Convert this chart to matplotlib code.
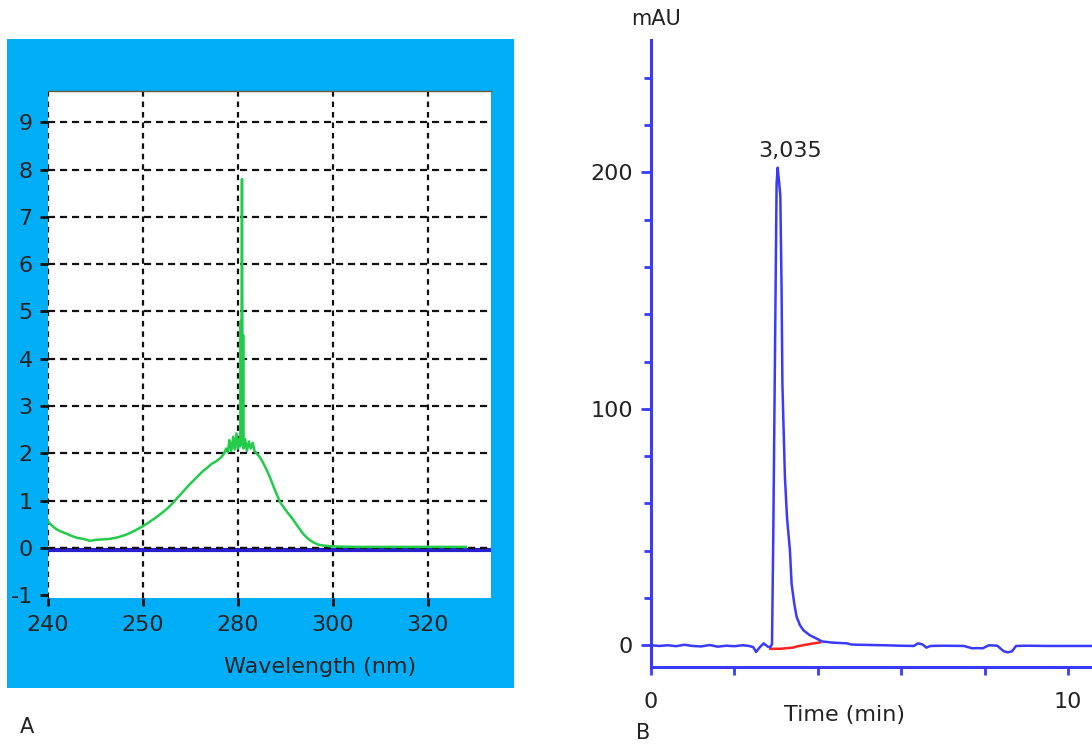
import matplotlib
matplotlib.use("Agg")
import matplotlib.pyplot as plt
from matplotlib.patches import Rectangle

plt.rcParams['font.family'] = ['DejaVu Sans']

# --- panel A: UV spectrum ---
spec_nm = [240.0, 240.8, 241.7, 242.6, 243.9, 245.0, 246.2, 247.4, 248.8, 250.2,
           251.6, 253.0, 254.6, 256.5, 258.2, 260.0, 261.7, 263.5, 265.0, 266.3,
           268.0, 269.8, 271.2, 272.6, 273.6, 274.5, 275.4, 276.3, 277.0, 277.5,
           277.9, 278.2, 278.6, 279.0, 279.3, 279.7, 280.0, 280.3, 280.5, 280.6,
           280.7, 280.85, 281.0, 281.1, 281.2, 281.5, 281.9, 282.3, 282.7, 283.1,
           283.5, 283.9, 284.6, 285.3, 286.0, 286.7, 287.8, 288.8, 290.2, 291.6,
           292.7, 293.7, 294.8, 295.8, 296.9, 297.9, 300.0, 305.0, 310.0, 315.0,
           320.0, 325.0, 328.0]
spec_abs = [0.56, 0.47, 0.40, 0.35, 0.30, 0.25, 0.21, 0.19, 0.15, 0.17,
            0.18, 0.19, 0.22, 0.28, 0.36, 0.46, 0.57, 0.70, 0.82, 0.95,
            1.14, 1.34, 1.48, 1.62, 1.70, 1.78, 1.83, 1.90, 1.98, 2.10,
            2.02, 2.28, 2.05, 2.35, 2.08, 2.42, 2.10, 2.30, 2.15, 4.80,
            2.45, 7.80, 2.20, 4.50, 2.10, 2.30, 2.05, 2.25, 2.10, 2.22,
            2.05, 2.00, 1.92, 1.80, 1.66, 1.50, 1.22, 0.98, 0.78, 0.60,
            0.44, 0.30, 0.19, 0.12, 0.07, 0.05, 0.03, 0.02, 0.02, 0.02,
            0.02, 0.02, 0.02]
spec_ticks = [240, 260, 280, 300, 320]
spec_tick_labels = ['240', '250', '280', '300', '320']
spec_yticks = [-1, 0, 1, 2, 3, 4, 5, 6, 7, 8, 9]

# --- panel B: chromatogram ---
chrom_t = [0.0, 0.2, 0.4, 0.6, 0.8, 1.0, 1.2, 1.4, 1.6, 1.8, 2.0, 2.2, 2.35, 2.45,
           2.52, 2.6, 2.7, 2.8, 2.86, 2.9, 2.93, 2.97, 3.01, 3.035, 3.07, 3.1,
           3.13, 3.15, 3.21, 3.26, 3.33, 3.37, 3.43, 3.49, 3.57, 3.65, 3.8, 3.97,
           4.1, 4.36, 4.7, 4.8, 5.0, 5.56, 6.0, 6.3, 6.4, 6.5, 6.6, 6.7, 7.0,
           7.5, 7.7, 7.8, 7.95, 8.1, 8.3, 8.45, 8.55, 8.65, 8.75, 9.0, 9.5, 10.0, 10.6]
chrom_v = [0.0, -0.3, 0.0, -0.4, 0.2, -0.3, -0.5, 0.1, -0.6, -0.2, -0.4, 0.0, -0.3, -0.8,
           -2.8, -1.0, 0.8, -0.6, -0.8, 0.5, 45.0, 120.0, 195.0, 202.0, 196.0, 190.0,
           150.0, 110.0, 71.0, 54.0, 40.0, 26.0, 18.0, 12.0, 8.5, 6.4, 4.3, 2.8,
           1.6, 1.1, 0.8, 0.3, 0.2, 0.0, -0.2, -0.3, 0.8, 0.4, -1.0, -0.3, -0.2,
           -0.3, -1.3, -1.2, -1.3, 0.0, -0.2, -2.5, -3.0, -2.6, -0.3, -0.2, -0.3, -0.3, -0.3]
base_t = [2.86, 3.1, 3.4, 3.5, 3.73, 3.9, 4.05]
base_v = [-1.5, -1.5, -1.0, -0.5, 0.3, 0.8, 1.2]
peak_t = 3.035
peak_v = 202.0
peak_label = '3,035'

fig = plt.figure(figsize=(10.92, 7.45), dpi=100)
fig.patches.append(Rectangle((7 / 1092, 1 - 688 / 745), 507 / 1092, 649 / 745,
                             transform=fig.transFigure, facecolor='#00AEF8',
                             edgecolor='none', zorder=-10))

# panel A
axA = fig.add_axes([48 / 1092, 1 - 598 / 745, 443 / 1092, 507 / 745])
axA.set_zorder(5)
axA.set_facecolor('white')
axA.set_xlim(240, 333.3)
axA.set_ylim(-1.06, 9.66)
for x in spec_ticks:
    axA.axvline(x, color='#111111', lw=1.6, ls=(0, (2.5, 2.2)), zorder=1)
for y in range(0, 10):
    axA.axhline(y, color='#111111', lw=1.6, ls=(0, (3.2, 2.2)), zorder=1)
axA.axhline(-0.05, color='#2a1fd0', lw=3, zorder=2)
axA.axhline(0, color='#111111', lw=1.6, ls=(0, (3.2, 2.2)), zorder=3)
axA.plot(spec_nm, spec_abs, color='#22cc4a', lw=1.8, zorder=4)
axA.set_xticks(spec_ticks)
axA.set_xticklabels(spec_tick_labels)
axA.set_yticks(spec_yticks)
axA.set_yticklabels([str(v) for v in spec_yticks])
axA.tick_params(axis='both', length=6, width=2, color='#111111', labelsize=16,
                labelcolor='#222222')
axA.tick_params(axis='y', pad=5)
axA.tick_params(axis='x', pad=6)
for s in axA.spines.values():
    s.set_visible(False)
axA.spines['top'].set_visible(True)
axA.spines['top'].set_color('#6b5a3a')
axA.spines['top'].set_linewidth(1)
axA.set_xlabel('Wavelength (nm)', fontsize=16, color='#222222', labelpad=16,
               x=0.615)

# panel B
blue = '#3a3aff'
axB = fig.add_axes([651 / 1092, 1 - 667 / 745, 441 / 1092, 627 / 745])
axB.set_xlim(0, 10.57)
axB.set_ylim(-9.2, 256)
axB.plot(base_t, base_v, color='#ff2020', lw=1.8, zorder=2)
axB.plot(chrom_t, chrom_v, color=blue, lw=1.8, zorder=3)
axB.annotate(peak_label, xy=(peak_t, peak_v), xytext=(12, 7),
             textcoords='offset pixels', ha='center', va='bottom',
             fontsize=16, color='#222222')
for side in ['top', 'right']:
    axB.spines[side].set_visible(False)
axB.spines['left'].set_color(blue)
axB.spines['bottom'].set_color(blue)
axB.spines['left'].set_linewidth(2.2)
axB.spines['bottom'].set_linewidth(2.2)
axB.set_yticks([0, 100, 200])
axB.set_yticks(range(20, 260, 20), minor=True)
axB.set_xticks([0, 10])
axB.set_xticks([2, 4, 6, 8], minor=True)
axB.tick_params(axis='both', which='both', color=blue, width=2, labelsize=16,
                labelcolor='#222222')
axB.tick_params(axis='y', which='major', length=7, pad=6)
axB.tick_params(axis='y', which='minor', length=5)
axB.tick_params(axis='x', which='both', length=6, pad=12)
fig.text(656 / 1092, 1 - 19 / 745, 'mAU', ha='center', va='center', fontsize=15,
         color='#222222')
fig.text(845 / 1092, 1 - 715 / 745, 'Time (min)', ha='center', va='center',
         fontsize=16, color='#222222')

fig.text(27 / 1092, 1 - 727 / 745, 'A', ha='center', va='center', fontsize=15,
         color='#222222')
fig.text(643 / 1092, 1 - 733 / 745, 'B', ha='center', va='center', fontsize=15,
         color='#222222')

fig.savefig('out.png', dpi=100, facecolor='white')
